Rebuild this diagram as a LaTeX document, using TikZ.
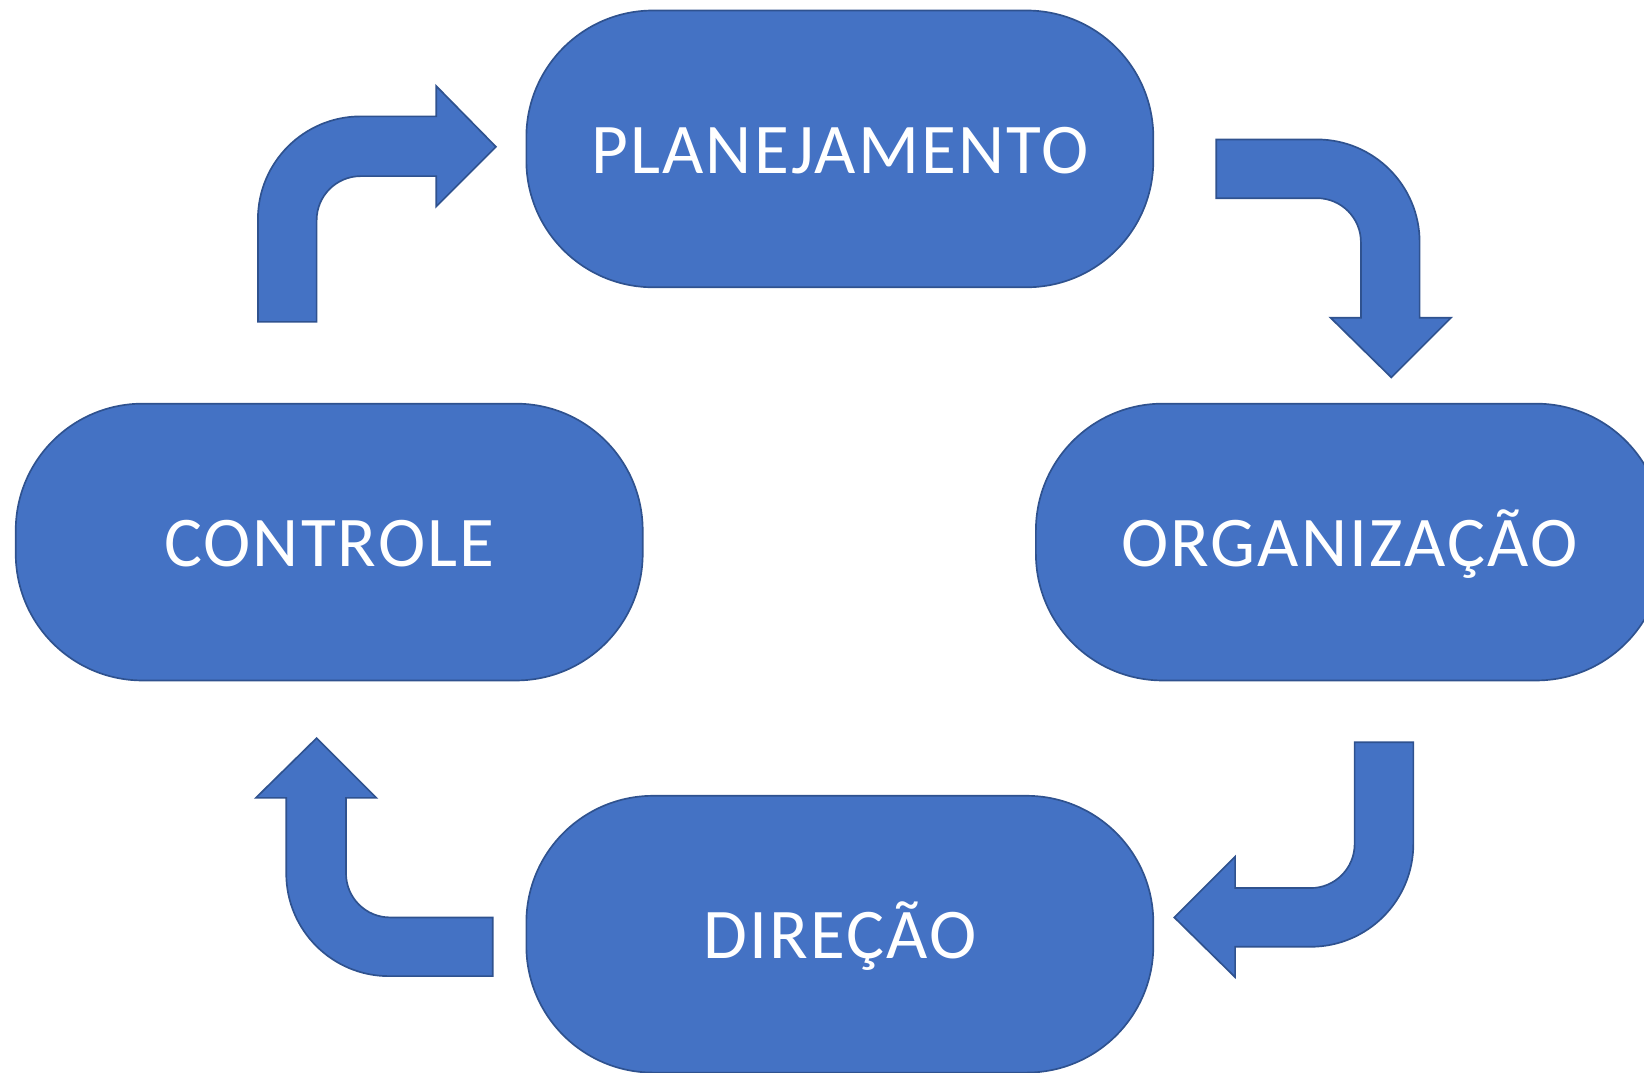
\documentclass[tikz,border=0pt]{standalone}
\usepackage{fontspec}
\setmainfont{Carlito}[LetterSpace=3.0]
\definecolor{boxfill}{HTML}{4472C4}
\definecolor{boxline}{HTML}{2F528F}
\tikzset{
  stadium/.style={draw=boxline, fill=boxfill, line width=1.6pt, rounded corners=121pt,
    minimum width=598pt, minimum height=264pt, inner sep=0pt,
    text=white, font=\fontsize{68}{72}\selectfont, text height=46pt, text depth=0pt},
  blockarrow/.style={draw=boxline, fill=boxfill, line width=1.6pt, line join=miter}
}
\begin{document}
\begin{tikzpicture}[x=1pt,y=-1pt]
\useasboundingbox (0,0) rectangle (1568,1023);
\node[stadium] (plan) at (801,142) {PLANEJAMENTO};
\node[stadium] (org)  at (1287,517) {ORGANIZAÇÃO};
\node[stadium] (dir)  at (801,891) {DIREÇÃO};
\node[stadium] (ctrl) at (314,517) {CONTROLE};
% controle -> planejamento
\draw[blockarrow] (246,307) -- (246,209) arc[start angle=180,end angle=270,radius=98]
  -- (416,111) -- (416,82) -- (473,140) -- (416,197) -- (416,168) -- (344,168)
  arc[start angle=270,end angle=180,radius=42] -- (302,307) -- cycle;
% planejamento -> organizacao
\draw[blockarrow] (1160,133) -- (1256,133) arc[start angle=270,end angle=360,radius=98]
  -- (1354,303) -- (1384,303) -- (1327,360) -- (1269,303) -- (1298,303) -- (1298,231)
  arc[start angle=0,end angle=-90,radius=42] -- (1160,189) -- cycle;
% organizacao -> direcao
\draw[blockarrow] (1292,708) -- (1348,708) -- (1348,805) arc[start angle=0,end angle=90,radius=98]
  -- (1178,903) -- (1178,932) -- (1120,875) -- (1178,817) -- (1178,847) -- (1250,847)
  arc[start angle=90,end angle=0,radius=42] -- cycle;
% direcao -> controle
\draw[blockarrow] (470,875) -- (470,931) -- (371,931) arc[start angle=90,end angle=180,radius=98]
  -- (273,761) -- (244,761) -- (302,704) -- (359,761) -- (330,761) -- (330,833)
  arc[start angle=180,end angle=90,radius=42] -- cycle;
\end{tikzpicture}
\end{document}
